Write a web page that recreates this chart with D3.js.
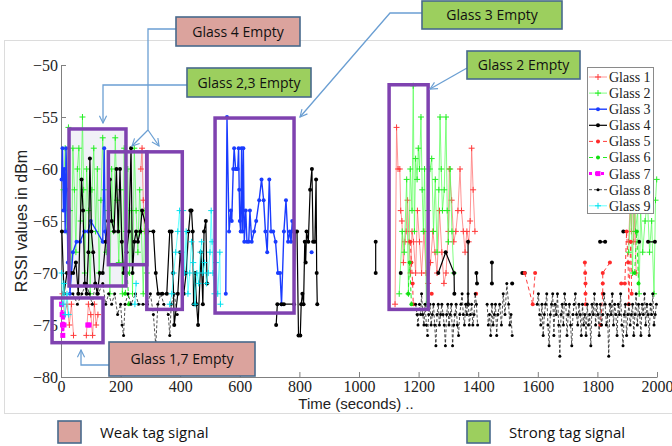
<!DOCTYPE html>
<html>
<head>
<meta charset="utf-8">
<script src="https://cdn.jsdelivr.net/npm/d3@7"></script>
<style>
body { margin: 0; background: #fff; }
.serif { font-family: "Liberation Serif", "Times New Roman", serif; }
.sans { font-family: "Liberation Sans", Arial, sans-serif; }
.note { font-family: "Open Sans", "Noto Sans", sans-serif; }
</style>
</head>
<body>
<div id="chart"></div>
<script>
// data: [time (s), RSSI (dBm)], a null value breaks the line
var glass1 = [
  [5,-72],[12,-74],[20,-73],[28,-75],[35,-73],[42,-76],[50,null],
  [85,-76],[92,-73],[100,-74],[106,-76],[112,-73],[118,-75],[124,-74],[130,null],
  [268,-60],[272,-58],[276,-63],[280,-66],[290,null],
  [1121,-73],[1126,-56],[1131,-60],[1137,-60],[1140,-64],[1144,-65],[1149,-69],[1154,-67],[1158,-66],
  [1163,-63],[1168,-67],[1173,-70],[1178,-66],[1183,-67],[1190,-70],[1196,-64],[1203,-67],[1210,-70],
  [1218,-66],[1225,-70],[1232,-71],[1240,-69],[1248,-66],[1255,-68],[1262,-70],[1270,-64],[1278,-68],
  [1285,-71],[1292,-70],[1300,-66],[1303,-60],[1311,-63],[1318,-67],[1325,-66],[1332,-64],[1339,-60],
  [1344,-64],[1350,-66],[1356,-68],[1362,-66],[1368,-67],[1373,-65],[1378,-58],[1383,-62],[1389,-66],[1395,null],
  [1905,-67],[1910,-63],[1914,-66],[1918,-62],[1922,-67],[1926,-64],[1930,-70]
];
var glass2 = [
  [8,-62],[14,-58],[20,-66],[25,-56],[30,-64],[35,-70],[40,-58],[45,-62],[50,-68],[55,-60],[60,-58],
  [66,-65],[72,-55],[76,-62],[80,-70],[86,-60],[92,-64],[98,-72],[104,-62],[110,-58],[116,-66],
  [122,-60],[128,-70],[134,-63],[140,-57],[146,-62],[152,-68],[158,-64],[164,-72],[170,-60],[176,-66],
  [182,-57],[188,-63],[194,-69],[200,-62],[206,-72],[212,-58],[218,-66],[224,-60],[230,-70],[236,-64],
  [240,-72],[246,-58],[252,-64],[258,-68],[264,-62],[270,-66],[276,-72],[282,-64],[288,-70],[294,-66],[300,null],
  [1135,-72],[1145,-66],[1152,-68],[1160,-61],[1166,-72],[1172,-60],[1178,-64],[1182,-52],[1186,-66],
  [1190,-59],[1195,-61],[1199,-58],[1203,-60],[1208,-55],[1212,-62],[1216,-66],[1220,-60],[1226,-73],
  [1232,-64],[1238,-60],[1244,-59],[1250,-66],[1256,-61],[1262,-68],[1268,-62],[1272,-55],[1276,-60],
  [1280,-64],[1286,-62],[1292,-55],[1296,-64],[1300,-67],[1306,-60],[1312,-66],[1318,-70],[1325,null],
  [1905,-68],[1912,-63],[1918,-70],[1922,-62],[1928,-66],[1935,-64],[1940,-72],[1945,-64],[1952,-68],
  [1960,-65],[1968,-63],[1975,-68],[1982,-65],[1990,-72],[1995,-63],[1999,-61]
];
var glass3 = [
  [2,-61],[5,-58],[8,-64],[11,-60],[14,-66],[17,-58],[20,-62],[23,-69],[26,-64],[30,-72],[40,-68],
  [52,-67],[64,-67],[78,-66],[91,-66],[100,-65],[140,-67],[145,-58],[148,-66],[152,-67],[160,null],
  [553,-72],[557,-55],[564,-66],[570,-64],[573,-65],[578,-60],[581,-58],[586,-60],[590,-60],[593,-60],
  [596,-58],[598,-62],[600,-65],[603,-66],[606,-58],[609,-66],[612,-58],[615,-67],[620,-64],[624,-67],
  [630,-67],[634,-64],[640,-67],[648,-66],[655,-65],[665,-63],[673,-61],[680,-63],[686,-66],[692,-68],
  [699,-61],[705,-66],[712,-66],[720,-67],[728,-70],[735,-70],[740,-73],[748,-66],[755,-63],[762,-67],
  [768,-66],[772,-67],[776,-65],[780,-66],[790,null],
  [841,-68]
];
var glass4 = [
  [3,-66],[10,-72],[20,-70],[32,-70],[41,-70],[50,-69],[58,-72],[69,-61],[74,-64],[80,-71],[86,-72],
  [92,-68],[97,-59],[102,-66],[108,-68],[115,-71],[122,-72],[130,-70],[140,-70],[150,-67],[157,-65],
  [164,-61],[170,-65],[178,-66],[186,-60],[192,-66],[198,-60],[204,-67],[210,-70],[220,-68],[228,-66],
  [235,-58],[240,-70],[246,-67],[252,-66],[258,-67],[266,-66],[272,-64],[290,-66],[310,-66],[318,-70],
  [326,-72],[340,-72],[355,-72],[365,-66],[371,-66],[376,-70],[380,-75],[392,-72],[400,-68],[412,-72],
  [420,-70],[428,-66],[434,-64],[438,-64],[442,-66],[445,-73],[450,-70],[455,-73],[460,-75],[470,-68],
  [476,-73],[480,-66],[486,-65],[490,-71],[500,null],
  [722,-75],[726,-73],[740,-73],[748,-73],[782,-73],[786,-66],[792,-66],[797,-76],[803,-76],[806,-73],
  [810,-72],[814,-73],[818,-67],[821,-69],[824,-66],[830,-67],[836,-62],[842,-60],[846,-67],[852,-67],
  [856,-61],[858,-70],[860,-73],[870,null],
  [1056,-67],[1056,-70],[1060,null],[1140,-70],[1145,null],
  [1266,-70],[1291,-68],[1319,-70],[1320,-72],[1330,null],[1366,-67],[1366,-73],[1370,null],
  [1394,-70],[1396,-71],[1400,null],[1446,-69],[1446,-71],[1450,null],[1514,-71],[1520,null],
  [1548,-70],[1556,-70],[1560,null],[1809,-67],[1826,-67],[1830,null],[1887,-66],[1890,null],
  [1940,-67],[1945,null],[1970,-67],[1993,-67]
];
var glass5 = [
  [1172,-67],[1176,-69],[1180,-71],[1182,-73],[1190,null],
  [1244,-72],[1250,null],[1393,-72],[1398,null],
  [1556,-70],[1583,-73],[1591,-70],[1600,null],
  [1758,-69],[1759,-70],[1760,-71],[1760,-72],[1761,-73],[1770,null],
  [1842,-69],[1818,-70],[1818,-71],[1818,-72],[1810,-75],[1850,null],
  [1880,-71],[1892,-71],[1898,-66],[1903,-69],[1905,-73],[1912,-67],[1915,-72]
];
var glass6 = [
  [215,-72],[222,-70],[228,-73],[235,null],
  [1165,-72],[1170,-69],[1176,-73],[1180,null],
  [1925,-70],[1932,-66],[1938,-71]
];
var glass7 = [
  [2,-73],[4,-74],[5,-75],[6,-76],[8,-74],[10,-75],[20,null],[90,-75],[94,-75]
];
var glass8 = [
  [40,-72],[55,-73],[70,-72],[85,-71],[95,-72],[105,-73],[115,-71],[125,-72],[140,-71],[150,-73],
  [160,-72],[170,-73],[180,-72],[190,-74],[200,-73],[205,-75],[210,-76],[215,-73],[225,-72],[235,-73],
  [250,-72],[260,-73],[275,-73],[290,-73],[300,-72],[310,-74],[318,-77],[325,-73],[335,-72],[345,-73],
  [360,-74],[365,-76],[370,-73],[380,-72],[390,-74],[400,null],
  [1190,-73],[1195,-74],[1198,-75],[1203,-73],[1207,-74],[1210,-72],[1214,-74],[1218,-75],[1222,-73],
  [1226,-75],[1230,-76],[1234,-74],[1238,-73],[1242,-75],[1246,-74],[1250,-73],[1254,-75],[1258,-77],
  [1262,-74],[1266,-73],[1270,-75],[1274,-74],[1278,-73],[1282,-74],[1286,-75],[1290,-77],[1294,-74],
  [1298,-73],[1302,-75],[1306,-74],[1310,-73],[1314,-77],[1318,-75],[1322,-74],[1326,-73],[1330,-75],
  [1334,-76],[1338,-74],[1342,-73],[1346,-72],[1350,-74],[1354,-75],[1358,-73],[1362,-74],[1366,-72],
  [1370,-75],[1374,-74],[1378,-73],[1382,-75],[1386,-74],[1390,-72],[1394,-73],[1398,-75],[1410,null],
  [1430,-73],[1434,-75],[1438,-74],[1442,-76],[1446,-73],[1450,-75],[1454,-74],[1458,-73],[1462,-76],
  [1466,-74],[1472,-73],[1478,-75],[1484,-72],[1490,-74],[1496,-71],[1502,-73],[1506,-75],[1510,-74],
  [1514,-76],[1530,null],
  [1598,-73],[1602,-72],[1606,-74],[1610,-75],[1614,-73],[1618,-76],[1622,-74],[1626,-73],[1630,-72],
  [1634,-75],[1638,-77],[1642,-74],[1646,-73],[1650,-72],[1654,-76],[1658,-73],[1662,-74],[1666,-72],
  [1670,-75],[1674,-78],[1678,-74],[1682,-73],[1686,-75],[1690,-72],[1694,-73],[1698,-76],[1702,-74],
  [1706,-73],[1710,-75],[1714,-77],[1718,-74],[1722,-73],[1726,-72],[1730,-74],[1734,-75],[1738,-73],
  [1742,-74],[1746,-76],[1750,-73],[1754,-75],[1758,-74],[1762,-76],[1766,-73],[1770,-75],[1774,-74],
  [1778,-77],[1782,-73],[1786,-74],[1790,-72],[1794,-75],[1798,-73],[1802,-74],[1806,-76],[1810,-73],
  [1814,-75],[1818,-74],[1822,-72],[1826,-73],[1830,-75],[1834,-74],[1838,-78],[1842,-73],[1846,-74],
  [1850,-72],[1854,-75],[1858,-73],[1862,-74],[1866,-76],[1870,-73],[1874,-74],[1878,-72],[1882,-75],
  [1886,-77],[1890,-74],[1894,-73],[1898,-76],[1902,-74],[1906,-73],[1910,-75],[1914,-74],[1918,-73],
  [1922,-76],[1926,-74],[1930,-72],[1934,-75],[1938,-73],[1942,-74],[1946,-76],[1950,-73],[1954,-74],
  [1958,-72],[1962,-75],[1966,-73],[1970,-74],[1974,-76],[1978,-73],[1982,-74],[1986,-72],[1990,-75],
  [1994,-74],[1998,-73]
];
var glass9 = [
  [2,-70],[6,-73],[10,-71],[14,-74],[20,-72],[26,-74],[35,null],[248,-73],[252,-71],[260,null],
  [365,-73],[372,-72],[378,-70],[385,-68],[392,-66],[398,-64],[404,-68],[410,-64],[414,-70],[420,-66],
  [426,-72],[432,-70],[438,-67],[444,-69],[450,-73],[456,-70],[462,-71],[468,-68],[472,-67],[476,-70],
  [482,-69],[488,-71],[494,-70],[500,-68],[504,-64],[507,-67],[510,-70],[515,-72],[520,-69],[526,-72],
  [533,-68],[535,-73]
];

var seriesNames = ["Glass 1","Glass 2","Glass 3","Glass 4","Glass 5","Glass 6","Glass 7","Glass 8","Glass 9"];
var seriesData = [glass1, glass2, glass3, glass4, glass5, glass6, glass7, glass8, glass9];
var xTicks = [0,200,400,600,800,1000,1200,1400,1600,1800,2000];
var yTicks = [-80,-75,-70,-65,-60,-55,-50];

// highlighted regions [t0, t1, v0, v1]
var regions = [
  [27,218,-56.15,-71.25],
  [159,288,-58.35,-69.2],
  [288,407,-58.35,-73.5],
  [517,782,-55.1,-73.85],
  [1101,1232,-51.9,-73.5],
  [-30,141,-72.4,-76.7]
];
var shadedRegions = [0, 1];
var calloutText = ["Glass 4 Empty","Glass 2,3 Empty","Glass 3 Empty","Glass 2 Empty","Glass 1,7 Empty"];
var calloutKind = ["weak","strong","strong","strong","weak"];

var styles = [
  {line:"#ff7070", op:0.75, w:1, dash:null, mark:"plus", mc:"#ff3a3a"},
  {line:"#55ff55", op:0.75, w:1, dash:null, mark:"plus", mc:"#22ee22"},
  {line:"#1a3cff", op:1, w:1.4, dash:null, mark:"dot", mc:"#1a3cff", r:2},
  {line:"#000", op:1, w:1.2, dash:null, mark:"dot", mc:"#000", r:2},
  {line:"#ff3a3a", op:1, w:1, dash:"4,3", mark:"dot", mc:"#ff2a2a", r:2},
  {line:"#22ee22", op:1, w:1, dash:"4,3", mark:"dot", mc:"#11dd11", r:2},
  {line:"#ff00ff", op:1, w:3, dash:"3,3", mark:"square", mc:"#ff00ff"},
  {line:"#222", op:1, w:0.8, dash:"3,2", mark:"dot", mc:"#000", r:1.5},
  {line:"#44ffff", op:0.8, w:1, dash:null, mark:"plus", mc:"#00e0ee"}
];
var fills = {weak:"#dba39d", strong:"#9ccf5e"};

var width = 672, height = 446;
var svg = d3.select("#chart").append("svg")
  .attr("width", width).attr("height", height);

// figure frame
svg.append("rect").attr("x", 4.5).attr("y", 40.5).attr("width", 700).attr("height", 373)
  .attr("fill", "none").attr("stroke", "#dcdcdc");

var x = d3.scaleLinear().domain([0, 2000]).range([61, 657]);
var y = d3.scaleLinear().domain([-80, -50]).range([377, 65]);

// shaded regions behind data
shadedRegions.forEach(function(i) {
  var r = regions[i];
  svg.append("rect")
    .attr("x", x(r[0])).attr("y", y(r[2]))
    .attr("width", x(r[1]) - x(r[0])).attr("height", y(r[3]) - y(r[2]))
    .attr("fill", "#f1f1f7");
});

var xAxis = d3.axisBottom(x).tickValues(xTicks).tickFormat(d3.format("d"))
  .tickSizeInner(-5).tickSizeOuter(0).tickPadding(4);
var yAxis = d3.axisLeft(y).tickValues(yTicks).tickFormat(d3.format("d"))
  .tickSizeInner(-5).tickSizeOuter(0).tickPadding(3);

var gx = svg.append("g").attr("transform", "translate(0," + y(-80) + ")").call(xAxis);
var gy = svg.append("g").attr("transform", "translate(" + x(0) + ",0)").call(yAxis);
[gx, gy].forEach(function(g) {
  g.attr("font-family", null).attr("font-size", null);
  g.selectAll("path,line").attr("stroke", "#808080");
  g.selectAll("text").attr("class", "serif").attr("font-size", 16).attr("fill", "#222");
});

svg.append("text").attr("class", "sans")
  .attr("transform", "translate(27," + 221 + ") rotate(-90)")
  .attr("text-anchor", "middle").attr("font-size", 16).attr("fill", "#222")
  .text("RSSI values in dBm");
svg.append("text").attr("class", "sans")
  .attr("x", 356).attr("y", 409).attr("text-anchor", "middle")
  .attr("font-size", 15).attr("fill", "#222")
  .text("Time (seconds) ..");

var line = d3.line()
  .defined(function(d) { return d[1] !== null; })
  .x(function(d) { return x(d[0]); })
  .y(function(d) { return y(d[1]); });

function drawMarker(g, kind, cx, cy, st) {
  if (kind === "plus") {
    g.append("path").attr("d", "M" + (cx - 3) + "," + cy + "h6M" + cx + "," + (cy - 3) + "v6")
      .attr("stroke", st.mc).attr("stroke-width", 1).attr("fill", "none");
  } else if (kind === "square") {
    g.append("rect").attr("x", cx - 2.5).attr("y", cy - 2.5).attr("width", 5).attr("height", 5)
      .attr("fill", st.mc);
  } else {
    g.append("circle").attr("cx", cx).attr("cy", cy).attr("r", st.r).attr("fill", st.mc);
  }
}

seriesData.forEach(function(data, i) {
  var st = styles[i];
  var g = svg.append("g");
  g.append("path").datum(data).attr("d", line)
    .attr("fill", "none").attr("stroke", st.line).attr("stroke-width", st.w)
    .attr("stroke-opacity", st.op).attr("stroke-dasharray", st.dash);
  data.filter(function(d) { return d[1] !== null; }).forEach(function(d) {
    drawMarker(g, st.mark, x(d[0]), y(d[1]), st);
  });
});

// region outlines
svg.selectAll(".region").data(regions).enter().append("rect")
  .attr("x", function(r) { return x(r[0]); })
  .attr("y", function(r) { return y(r[2]); })
  .attr("width", function(r) { return x(r[1]) - x(r[0]); })
  .attr("height", function(r) { return y(r[3]) - y(r[2]); })
  .attr("fill", "none").attr("stroke", "#7f42b0").attr("stroke-width", 3.5);

// legend
var lg = svg.append("g");
lg.append("rect").attr("x", 587.5).attr("y", 67.5).attr("width", 66).attr("height", 146)
  .attr("fill", "#fff").attr("stroke", "#8a8a8a");
seriesNames.forEach(function(name, i) {
  var st = styles[i], ly = 77 + i * 16.1;
  lg.append("line").attr("x1", 589).attr("x2", 607).attr("y1", ly).attr("y2", ly)
    .attr("stroke", st.line).attr("stroke-width", st.w).attr("stroke-opacity", st.op)
    .attr("stroke-dasharray", st.dash);
  drawMarker(lg, st.mark, 598, ly, st);
  lg.append("text").attr("class", "serif").attr("x", 609).attr("y", ly).attr("dy", "0.35em")
    .attr("font-size", 14).attr("fill", "#222").text(name);
});

// callouts
var boxes = [
  {x:176, y:17, w:124, h:29},
  {x:187, y:68, w:124, h:29},
  {x:422, y:1, w:140, h:28},
  {x:467, y:51, w:113, h:28},
  {x:109, y:342, w:146, h:34}
];
var arrows = [
  [[[176,29],[148,29],[148,130],[132,146]], [[148,130],[159,146]]],
  [[[187,85],[103,85],[103,123]]],
  [[[422,13],[390,13],[300,117]]],
  [[[467,68],[430,89]]],
  [[[109,365],[81,365],[81,350]]]
];
var defs = svg.append("defs");
defs.append("marker").attr("id", "arr").attr("viewBox", "0 0 10 10")
  .attr("refX", 9).attr("refY", 5).attr("markerWidth", 9).attr("markerHeight", 9)
  .attr("markerUnits", "userSpaceOnUse").attr("orient", "auto")
  .append("path").attr("d", "M1,1L9,5L1,9").attr("fill", "none")
  .attr("stroke", "#6b9fd3").attr("stroke-width", 1.3);

arrows.forEach(function(set) {
  set.forEach(function(pts) {
    svg.append("path").attr("d", d3.line()(pts))
      .attr("fill", "none").attr("stroke", "#6b9fd3").attr("stroke-width", 1.3)
      .attr("marker-end", "url(#arr)");
  });
});

boxes.forEach(function(b, i) {
  svg.append("rect").attr("x", b.x).attr("y", b.y).attr("width", b.w).attr("height", b.h)
    .attr("fill", fills[calloutKind[i]]).attr("stroke", "#48698c").attr("stroke-width", 1.6);
  svg.append("text").attr("class", "note")
    .attr("x", b.x + b.w / 2).attr("y", b.y + b.h / 2).attr("dy", "0.36em")
    .attr("text-anchor", "middle").attr("font-size", 14).attr("fill", "#111")
    .text(calloutText[i]);
});

// signal key under the chart
var keyText = ["Weak tag signal", "Strong tag signal"];
var keyFill = [fills.weak, fills.strong];
var keyX = [58, 467];
keyText.forEach(function(t, i) {
  svg.append("rect").attr("x", keyX[i]).attr("y", 421).attr("width", 23).attr("height", 22)
    .attr("fill", keyFill[i]).attr("stroke", "#48698c").attr("stroke-width", 1.6);
  svg.append("text").attr("class", "note")
    .attr("x", keyX[i] + 42).attr("y", 438).attr("font-size", 15).attr("fill", "#111")
    .text(t);
});
</script>
</body>
</html>
